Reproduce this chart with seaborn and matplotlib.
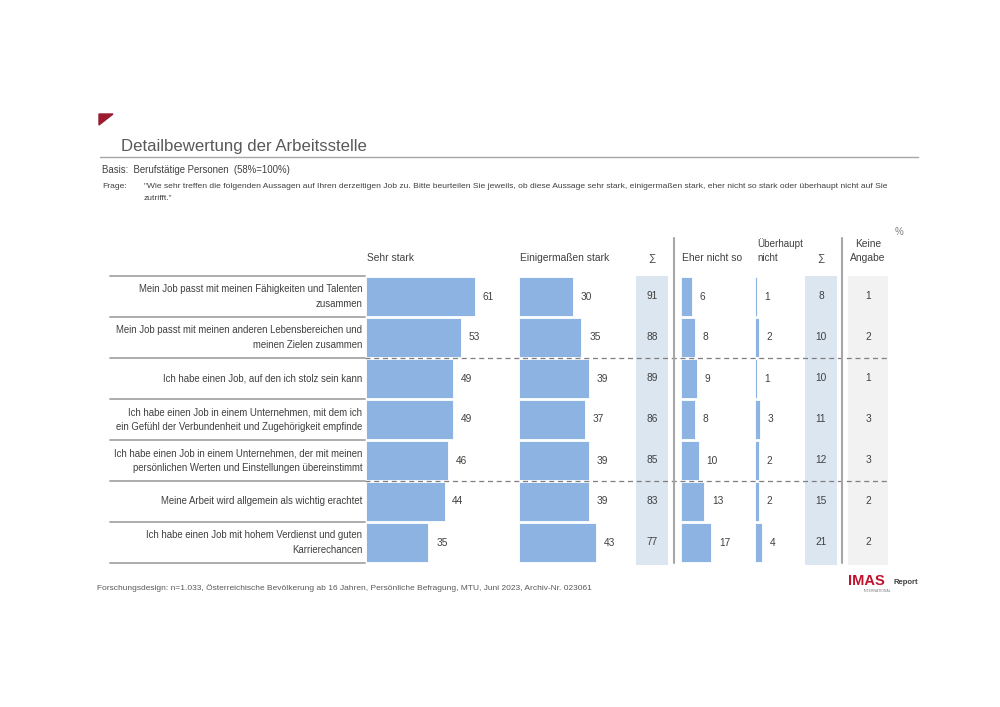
# Detailbewertung der Arbeitsstelle - IMAS style table chart

import numpy as np
import pandas as pd
import matplotlib
matplotlib.use("Agg")
import matplotlib.pyplot as plt
from matplotlib.lines import Line2D
from matplotlib.patches import Polygon
import seaborn as sns

# Data
items = [
    "Mein Job passt mit meinen Fähigkeiten und Talenten\nzusammen",
    "Mein Job passt mit meinen anderen Lebensbereichen und\nmeinen Zielen zusammen",
    "Ich habe einen Job, auf den ich stolz sein kann",
    "Ich habe einen Job in einem Unternehmen, mit dem ich\nein Gefühl der Verbundenheit und Zugehörigkeit empfinde",
    "Ich habe einen Job in einem Unternehmen, der mit meinen\npersönlichen Werten und Einstellungen übereinstimmt",
    "Meine Arbeit wird allgemein als wichtig erachtet",
    "Ich habe einen Job mit hohem Verdienst und guten\nKarrierechancen",
]
sehr_stark = [61, 53, 49, 49, 46, 44, 35]
einigermassen = [30, 35, 39, 37, 39, 39, 43]
summe_pos = [91, 88, 89, 86, 85, 83, 77]
eher_nicht = [6, 8, 9, 8, 10, 13, 17]
ueberhaupt_nicht = [1, 2, 1, 3, 2, 2, 4]
summe_neg = [8, 10, 10, 11, 12, 15, 21]
keine_angabe = [1, 2, 1, 3, 3, 2, 2]

df = pd.DataFrame({
    'item': items,
    'sehr': sehr_stark,
    'einig': einigermassen,
    'eher': eher_nicht,
    'ueber': ueberhaupt_nicht,
})

sns.set_theme(style="white")
plt.rcParams['font.family'] = ['Liberation Sans', 'DejaVu Sans']

TXT = '#404040'
BAR = '#8db3e2'
W, H = 1000, 707
PX = 1.785  # pixels per percent
TOP, BOT = 276, 563


def box(x0, y0, x1, y1):
    return [x0 / W, 1 - y1 / H, (x1 - x0) / W, (y1 - y0) / H]


def fx(x):
    return x / W


def fy(y):
    return 1 - y / H


fig = plt.figure(figsize=(10, 7.07), dpi=100)
fig.patch.set_facecolor('white')

# Header block
fig.add_artist(Polygon([(fx(99), fy(114)), (fx(113), fy(114)), (fx(99), fy(125))],
                       closed=True, color='#9b1b30', transform=fig.transFigure))
fig.text(fx(121), fy(147), "Detailbewertung der Arbeitsstelle", fontsize=12.1,
         color='#595959', va='center')
fig.add_artist(Line2D([fx(100), fx(918)], [fy(157), fy(157)], color='#a6a6a6', lw=1))
fig.text(fx(102), fy(170), "Basis:  Berufstätige Personen  (58%=100%)", fontsize=6.9,
         color=TXT, va='center')
fig.text(fx(102), fy(187), "Frage:", fontsize=6.1, color=TXT, va='center')
fig.text(fx(144), fy(187),
         "\"Wie sehr treffen die folgenden Aussagen auf Ihren derzeitigen Job zu. Bitte beurteilen Sie jeweils, "
         "ob diese Aussage sehr stark, einigermaßen stark, eher nicht so stark oder überhaupt nicht auf Sie",
         fontsize=6.1, color=TXT, va='center')
fig.text(fx(144), fy(198), "zutrifft.\"", fontsize=6.1, color=TXT, va='center')

# Column headers
hdr = dict(fontsize=7.4, color=TXT, va='center')
fig.text(fx(367), fy(258), "Sehr stark", **hdr)
fig.text(fx(520), fy(258), "Einigermaßen stark", **hdr)
fig.text(fx(652), fy(258), "∑", ha='center', **hdr)
fig.text(fx(682), fy(258), "Eher nicht so", **hdr)
fig.text(fx(757), fy(251), "Überhaupt\nnicht", linespacing=1.5, fontsize=7.1, color=TXT, va='center')
fig.text(fx(821), fy(258), "∑", ha='center', **hdr)
fig.text(fx(868), fy(251), "Keine\nAngabe", ha='center', linespacing=1.5, **hdr)
fig.text(fx(899), fy(232), "%", fontsize=7, color='#7f7f7f', ha='center', va='center')

# Label column with row rules
ax_lab = fig.add_axes(box(110, TOP, 365, BOT))
ax_lab.set_xlim(0, 1)
ax_lab.set_ylim(6.5, -0.5)
ax_lab.axis('off')
for k in range(8):
    ax_lab.axhline(k - 0.5, color='#a6a6a6', lw=1.3, clip_on=False)
for i, lab in enumerate(items):
    ax_lab.text(0.99, i, lab, ha='right', va='center', fontsize=6.95, color=TXT,
                linespacing=1.6)

# Bar columns
bar_cols = [('sehr', 366, 150), ('einig', 519, 110), ('eher', 681, 70), ('ueber', 755, 45)]
for col, x0, w in bar_cols:
    ax = fig.add_axes(box(x0, TOP, x0 + w, BOT))
    sns.barplot(data=df, x=col, y='item', order=items, orient='h', color=BAR,
                saturation=1, width=0.97, edgecolor='white', linewidth=0.6, ax=ax)
    ax.set_xlim(0, w / PX)
    ax.set_ylim(6.5, -0.5)
    ax.axis('off')
    ax.bar_label(ax.containers[0], padding=5.5, fontsize=7.3, color=TXT)

# Sum / no-answer columns
for vals, x0, x1, bg in [(summe_pos, 636, 668, '#dce6f1'),
                          (summe_neg, 805, 837, '#dce6f1'),
                          (keine_angabe, 848, 888, '#f2f2f2')]:
    ax = fig.add_axes(box(x0, TOP, x1, BOT + 2))
    ax.set_facecolor(bg)
    ax.set_xlim(0, 1)
    ax.set_ylim(6.55, -0.5)
    ax.set_xticks([])
    ax.set_yticks([])
    for s in ax.spines.values():
        s.set_visible(False)
    for i, v in enumerate(vals):
        ax.text(0.5, i, str(v), ha='center', va='center', fontsize=7.3, color=TXT)

# Dashed group separators over the data area
ax_ov = fig.add_axes(box(365, TOP, 888, BOT))
ax_ov.set_ylim(6.5, -0.5)
ax_ov.axis('off')
for yy in [1.5, 4.5]:
    ax_ov.axhline(yy, color='#7f7f7f', lw=0.9, ls=(0, (4, 3)))

# Vertical separators
for xx in [674, 842]:
    fig.add_artist(Line2D([fx(xx), fx(xx)], [fy(238), fy(563)], color='#a6a6a6', lw=1.5))

# Footer
fig.text(fx(97), fy(588),
         "Forschungsdesign: n=1.033, Österreichische Bevölkerung ab 16 Jahren, Persönliche Befragung, "
         "MTU, Juni 2023, Archiv-Nr. 023061",
         fontsize=6.05, color='#595959', va='center')
fig.text(fx(848), fy(581), "IMAS", fontsize=10.5, fontweight='bold', color='#c0122c', va='center')
fig.text(fx(894), fy(582), "Report", fontsize=5.5, fontweight='bold', color='#404040', va='center')
fig.text(fx(864), fy(591), "INTERNATIONAL", fontsize=2.5, color='#7f7f7f', va='center')

plt.savefig("out.png", dpi=100)
